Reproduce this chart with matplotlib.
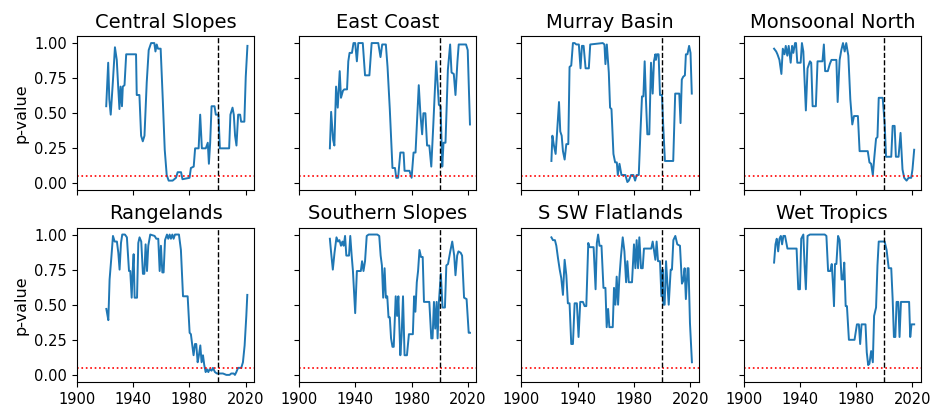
import numpy as np
import matplotlib
matplotlib.use("Agg")
import matplotlib.pyplot as plt

# p-value series, (year, value) per region
central_slopes = [(1920.8, 0.55), (1922.2, 0.86), (1923, 0.60), (1924, 0.49), (1925.5, 0.72), (1927, 0.97),
                  (1928.3, 0.88), (1929.3, 0.69), (1930.2, 0.53), (1931, 0.69), (1932, 0.55), (1932.6, 0.69),
                  (1933.8, 0.70), (1935, 0.92), (1942, 0.92), (1942.5, 0.63), (1944.4, 0.63), (1945.6, 0.34),
                  (1946.8, 0.30), (1948, 0.34), (1949.6, 0.72), (1951, 0.95), (1952.7, 1.00), (1955, 1.00),
                  (1955.8, 0.94), (1956.7, 0.99), (1957.6, 0.96), (1959.5, 0.96), (1961, 0.60), (1962.4, 0.24),
                  (1963.8, 0.06), (1965.2, 0.02), (1968, 0.02), (1970.4, 0.04), (1971.6, 0.08), (1974, 0.08),
                  (1975, 0.03), (1980, 0.04), (1981, 0.11), (1983, 0.12), (1984, 0.25), (1986.5, 0.25),
                  (1987.6, 0.49), (1988.8, 0.25), (1991.6, 0.25), (1993, 0.29), (1993.8, 0.14), (1994.7, 0.29),
                  (1995.7, 0.55), (1997.8, 0.55), (1998.7, 0.49), (2000.6, 0.49), (2001.6, 0.25), (2008.2, 0.25),
                  (2009.1, 0.49), (2010.6, 0.54), (2011.5, 0.49), (2012.4, 0.34), (2013.4, 0.27), (2014.6, 0.49),
                  (2016, 0.49), (2016.7, 0.44), (2019, 0.44), (2020, 0.76), (2021.2, 0.98)]

east_coast = [(1921.8, 0.25), (1922.7, 0.51), (1924.1, 0.31), (1925, 0.27), (1926.2, 0.69), (1927.4, 0.54),
              (1928.8, 0.80), (1929.7, 0.61), (1931.1, 0.66), (1932, 0.67), (1934, 0.67), (1934.9, 0.87),
              (1935.8, 0.93), (1937.5, 0.93), (1938.6, 1.00), (1939.8, 1.00), (1941, 0.87), (1942, 1.00),
              (1945.2, 1.00), (1946.8, 0.77), (1949.9, 0.77), (1951.5, 1.00), (1956.2, 1.00), (1957.8, 0.90),
              (1959, 0.99), (1961.6, 0.99), (1962.8, 0.83), (1964.4, 0.53), (1966.3, 0.11), (1968.1, 0.11),
              (1969, 0.04), (1970.3, 0.04), (1971.9, 0.22), (1974.2, 0.22), (1974.9, 0.09), (1978.4, 0.09),
              (1979.9, 0.04), (1981.3, 0.22), (1982.7, 0.22), (1985, 0.70), (1986.2, 0.49), (1987.4, 0.35),
              (1988.3, 0.50), (1989.7, 0.50), (1990.9, 0.27), (1992.5, 0.27), (1993.9, 0.12), (1995.3, 0.41),
              (1997.4, 0.87), (1999.3, 0.56), (2000.5, 0.55), (2001.7, 0.12), (2002.6, 0.29), (2004, 0.29),
              (2005.7, 0.81), (2007.3, 0.99), (2008.3, 0.79), (2009.9, 0.78), (2011.1, 0.63), (2012.5, 0.87),
              (2013.4, 0.99), (2018.6, 0.99), (2019.8, 0.95), (2021.4, 0.42)]

murray_basin = [(1921.3, 0.16), (1922, 0.34), (1923.1, 0.27), (1924.3, 0.21), (1925.3, 0.36), (1926.7, 0.58),
                (1927.6, 0.37), (1928.6, 0.34), (1929.5, 0.23), (1930.7, 0.17), (1931.9, 0.28), (1933.3, 0.28),
                (1934.2, 0.83), (1935.4, 0.84), (1936.6, 1.00), (1937.8, 1.00), (1939, 0.99), (1940.8, 0.99),
                (1942, 0.82), (1943, 0.98), (1944.2, 0.98), (1945.6, 0.82), (1947.9, 0.82), (1948.9, 0.99),
                (1957.8, 1.00), (1959, 0.99), (1959.7, 0.85), (1960.7, 0.99), (1962.1, 0.79), (1963, 0.54),
                (1964, 0.53), (1965.4, 0.21), (1966.6, 0.15), (1967.8, 0.15), (1968.5, 0.06), (1969.7, 0.14),
                (1971.1, 0.06), (1973.9, 0.06), (1975.3, 0.01), (1976.3, 0.02), (1977.9, 0.06), (1979.6, 0.06),
                (1980.8, 0.02), (1981.9, 0.06), (1983.4, 0.06), (1984.5, 0.34), (1985.7, 0.62), (1986.7, 0.62),
                (1987.6, 0.87), (1988.5, 0.60), (1989.5, 0.35), (1990.9, 0.35), (1992.1, 0.86), (1993.3, 0.64),
                (1994.2, 0.87), (1995.2, 0.92), (1995.6, 0.88), (1996.3, 0.92), (1997.5, 0.92), (1998.5, 0.63),
                (1999.9, 0.63), (2000.8, 0.41), (2002, 0.16), (2007.9, 0.16), (2009.3, 0.64), (2012.2, 0.64),
                (2013.1, 0.43), (2014, 0.74), (2015, 0.76), (2016.2, 0.77), (2016.9, 0.92), (2018, 0.92),
                (2019.2, 0.98), (2020.2, 0.93), (2021.1, 0.64)]

monsoonal_north = [(1921.6, 0.96), (1923.1, 0.94), (1924, 0.92), (1925.4, 0.88), (1926.8, 0.78), (1927.8, 0.96),
                   (1929, 0.92), (1929.9, 0.98), (1931, 0.91), (1932, 0.98), (1933.4, 0.86), (1934.4, 0.98),
                   (1935.3, 0.93), (1936.5, 1.00), (1937.2, 1.00), (1938.1, 0.86), (1940.5, 0.86), (1941.4, 1.00),
                   (1942.4, 0.94), (1944.2, 0.52), (1945.4, 0.82), (1947.1, 0.87), (1948, 0.86), (1949, 0.55),
                   (1951.3, 0.55), (1952.5, 0.87), (1956, 0.87), (1957, 0.99), (1957.9, 0.80), (1959.8, 0.80),
                   (1961.2, 0.85), (1962.4, 0.88), (1965.9, 0.88), (1966.8, 0.58), (1968.2, 0.88), (1969.4, 0.95),
                   (1970.6, 1.00), (1971.8, 0.94), (1972.9, 1.00), (1974.4, 0.91), (1975.8, 0.60), (1977.2, 0.42),
                   (1978.4, 0.48), (1981.2, 0.48), (1982.4, 0.23), (1988.2, 0.23), (1989.4, 0.15), (1990.6, 0.14),
                   (1991.8, 0.06), (1992.9, 0.19), (1994.1, 0.32), (1995.1, 0.33), (1996, 0.61), (1998.8, 0.61),
                   (2000.2, 0.43), (2001.2, 0.19), (2004.9, 0.19), (2005.9, 0.41), (2007.3, 0.41), (2008.2, 0.19),
                   (2010.1, 0.19), (2011.5, 0.36), (2012.9, 0.10), (2014.1, 0.04), (2015.8, 0.02), (2017.2, 0.04),
                   (2019.1, 0.04), (2020, 0.10), (2021.2, 0.24)]

rangelands = [(1920.9, 0.47), (1921.6, 0.43), (1922.3, 0.39), (1923.2, 0.68), (1924.4, 0.83), (1925.6, 0.99),
              (1926.8, 0.95), (1928.4, 0.95), (1929.4, 0.87), (1930.3, 0.75), (1931.3, 0.94), (1932.2, 1.00),
              (1934.1, 1.00), (1935.5, 0.98), (1937, 0.74), (1937.9, 0.74), (1938.9, 0.55), (1939.6, 0.74),
              (1940.3, 0.86), (1941, 0.55), (1942.7, 0.55), (1943.6, 0.94), (1944.5, 0.98), (1945.7, 0.95),
              (1946.9, 0.72), (1947.9, 0.72), (1948.8, 0.93), (1949.8, 0.74), (1950.7, 0.92), (1952.1, 1.00),
              (1955.2, 0.99), (1956.4, 0.97), (1957.8, 0.97), (1958.8, 0.74), (1959.7, 0.92), (1960.7, 0.73),
              (1961.6, 0.73), (1962.6, 0.96), (1964, 1.00), (1964.9, 0.97), (1965.9, 1.00), (1966.8, 0.97),
              (1967.8, 1.00), (1968.7, 0.97), (1969.7, 1.00), (1972.5, 1.00), (1973.9, 0.89), (1975.4, 0.56),
              (1978.7, 0.56), (1980.1, 0.30), (1981, 0.29), (1982, 0.21), (1982.9, 0.14), (1983.9, 0.22),
              (1984.8, 0.22), (1985.8, 0.09), (1986.7, 0.14), (1987.7, 0.21), (1988.6, 0.09), (1989.6, 0.14),
              (1990.5, 0.07), (1991.5, 0.02), (1992.4, 0.04), (1993.4, 0.02), (1994.3, 0.04), (1995.7, 0.03),
              (1996.7, 0.05), (1998.1, 0.02), (1999.5, 0.01), (2003.8, 0.01), (2006.2, 0.00), (2008.5, 0.00),
              (2009.7, 0.01), (2011.4, 0.01), (2012.3, 0.00), (2013.3, 0.02), (2014.5, 0.05), (2016.8, 0.05),
              (2018, 0.09), (2019.2, 0.21), (2020.4, 0.42), (2021.1, 0.57)]

southern_slopes = [(1921.8, 0.97), (1922.7, 0.87), (1923.9, 0.75), (1925.1, 0.87), (1926.5, 0.98), (1927.6, 0.95),
                   (1928.6, 0.96), (1929.7, 0.92), (1930.7, 0.95), (1931.6, 0.92), (1932.6, 0.99), (1933.5, 0.85),
                   (1935.4, 0.85), (1936.3, 0.99), (1937.3, 0.85), (1938.2, 0.74), (1939.8, 0.44), (1941, 0.74),
                   (1943.8, 0.74), (1944.7, 0.81), (1945.7, 0.74), (1946.8, 0.81), (1948, 0.99), (1949.4, 1.00),
                   (1955.5, 1.00), (1956.9, 0.99), (1957.9, 0.85), (1958.8, 0.78), (1959.7, 0.55), (1960.7, 0.76),
                   (1961.6, 0.55), (1962.6, 0.56), (1963.5, 0.41), (1964.4, 0.41), (1965.3, 0.26), (1966.3, 0.20),
                   (1967.2, 0.20), (1968.6, 0.56), (1969.6, 0.42), (1970.5, 0.56), (1971.9, 0.14), (1972.8, 0.28),
                   (1973.8, 0.56), (1974.9, 0.14), (1976.6, 0.14), (1978, 0.29), (1980.8, 0.29), (1981.7, 0.56),
                   (1982.6, 0.45), (1983.6, 0.66), (1984.5, 0.74), (1985.5, 0.89), (1986.6, 0.84), (1987.8, 0.84),
                   (1988.7, 0.52), (1992.5, 0.52), (1993.9, 0.26), (1994.8, 0.26), (1995.8, 0.52), (1996.7, 0.33),
                   (1997.7, 0.52), (1998.4, 0.26), (1999.3, 0.52), (2000.7, 0.72), (2001.9, 0.48), (2003.6, 0.48),
                   (2004.6, 0.78), (2005.8, 0.79), (2007.4, 0.88), (2008.8, 0.95), (2010.2, 0.85), (2011.1, 0.71),
                   (2012.3, 0.85), (2013.2, 0.88), (2014.8, 0.87), (2015.8, 0.85), (2017.2, 0.55), (2019, 0.54),
                   (2020.5, 0.30), (2021.4, 0.30)]

s_sw_flatlands = [(1921.3, 0.98), (1922.4, 0.96), (1923.8, 0.96), (1924.8, 0.92), (1926, 0.83), (1927.2, 0.75),
                  (1928.3, 0.69), (1929.5, 0.57), (1930.7, 0.82), (1931.9, 0.71), (1933, 0.51), (1934.2, 0.51),
                  (1935.4, 0.22), (1936.6, 0.22), (1937.8, 0.51), (1939.4, 0.51), (1940.6, 0.27), (1941.8, 0.52),
                  (1943.7, 0.52), (1944.9, 0.49), (1946.1, 0.49), (1947.5, 0.94), (1948.4, 0.91), (1951.3, 0.91),
                  (1952.7, 0.61), (1953.6, 0.94), (1954.5, 1.00), (1955.5, 0.92), (1956.9, 0.92), (1958.3, 0.62),
                  (1959.7, 0.62), (1960.6, 0.34), (1961.6, 0.47), (1962.5, 0.34), (1964.9, 0.34), (1965.8, 0.62),
                  (1966.8, 0.50), (1967.7, 0.70), (1968.7, 0.50), (1969.6, 0.69), (1970.8, 0.85), (1972, 0.98),
                  (1973.2, 0.88), (1974.4, 0.66), (1975.3, 0.81), (1976.3, 0.66), (1978.6, 0.66), (1980, 0.93),
                  (1981, 0.76), (1981.9, 0.96), (1982.9, 0.76), (1983.8, 0.98), (1985, 0.76), (1986.2, 0.76),
                  (1987.1, 0.90), (1992.3, 0.90), (1993.3, 0.95), (1994.2, 0.89), (1995.2, 0.82), (1996.1, 0.95),
                  (1997.1, 0.81), (1998.5, 0.81), (1999.5, 0.56), (2000.4, 0.75), (2000.9, 0.50), (2001.8, 0.50),
                  (2002.8, 0.81), (2003.7, 0.66), (2004.7, 0.50), (2006.1, 0.75), (2007, 0.75), (2008, 0.96),
                  (2009.4, 0.99), (2010.8, 0.93), (2012.7, 0.92), (2014.1, 0.65), (2015, 0.67), (2016, 0.76),
                  (2016.9, 0.54), (2018.1, 0.76), (2018.8, 0.76), (2019.8, 0.37), (2021.2, 0.09)]

wet_tropics = [(1921.6, 0.80), (1922.6, 0.93), (1923.5, 0.97), (1924.5, 0.88), (1925.4, 0.97), (1926.4, 0.99),
               (1927.3, 0.93), (1928.2, 0.99), (1929.4, 0.99), (1931.1, 0.90), (1937.6, 0.90), (1938.8, 0.61),
               (1940, 0.61), (1940.9, 0.97), (1942.4, 1.00), (1943.3, 0.78), (1944.2, 0.61), (1945.4, 0.99),
               (1947.1, 1.00), (1957.6, 1.00), (1958.8, 0.99), (1960, 0.74), (1961.6, 0.74), (1962.6, 0.79),
               (1963.5, 0.64), (1964.2, 0.49), (1964.9, 0.79), (1965.9, 0.79), (1967.1, 0.99), (1968.2, 0.96),
               (1969.6, 0.68), (1970.6, 0.68), (1971.5, 0.80), (1972.5, 0.49), (1973.4, 0.49), (1974.8, 0.25),
               (1978.8, 0.25), (1980.5, 0.36), (1981.9, 0.36), (1982.8, 0.22), (1983.8, 0.36), (1986.6, 0.36),
               (1987.5, 0.16), (1988.5, 0.07), (1989.4, 0.08), (1990.6, 0.17), (1991.8, 0.09), (1992.7, 0.42),
               (1994.1, 0.48), (1995.1, 0.78), (1996, 0.95), (2000.2, 0.95), (2001.6, 0.89), (2003.1, 0.76),
               (2004.9, 0.76), (2005.9, 0.54), (2006.8, 0.27), (2007.8, 0.27), (2008.7, 0.52), (2009.9, 0.52),
               (2010.8, 0.27), (2011.8, 0.52), (2017.6, 0.52), (2018.4, 0.27), (2019.3, 0.36), (2021.2, 0.36)]

titles = ["Central Slopes", "East Coast", "Murray Basin", "Monsoonal North",
          "Rangelands", "Southern Slopes", "S SW Flatlands", "Wet Tropics"]
series = [central_slopes, east_coast, murray_basin, monsoonal_north,
          rangelands, southern_slopes, s_sw_flatlands, wet_tropics]

alpha_level = 0.05
break_year = 2000

fig, axes = plt.subplots(2, 4, figsize=(9.34, 4.05), dpi=100, sharex=True, sharey=True)
fig.subplots_adjust(left=0.0824, right=0.986, top=0.911, bottom=0.057, wspace=0.254, hspace=0.24)

for ax, title, data in zip(axes.flat, titles, series):
    yrs, vals = zip(*data)
    ax.plot(yrs, vals, color="tab:blue", lw=1.4)
    ax.axhline(alpha_level, color="red", ls=":", lw=1.2)
    ax.axvline(break_year, color="k", ls="--", lw=1)
    ax.set_title(title, fontsize=14)
    ax.tick_params(labelsize=10.5)

for ax in axes[:, 0]:
    ax.set_ylabel("p-value", fontsize=11.5)

axes[0, 0].set_xlim(1900, 2026)
axes[0, 0].set_xticks([1900, 1940, 1980, 2020])
axes[0, 0].set_yticks([0, 0.25, 0.5, 0.75, 1.0])

fig.savefig("out.png", dpi=100)
